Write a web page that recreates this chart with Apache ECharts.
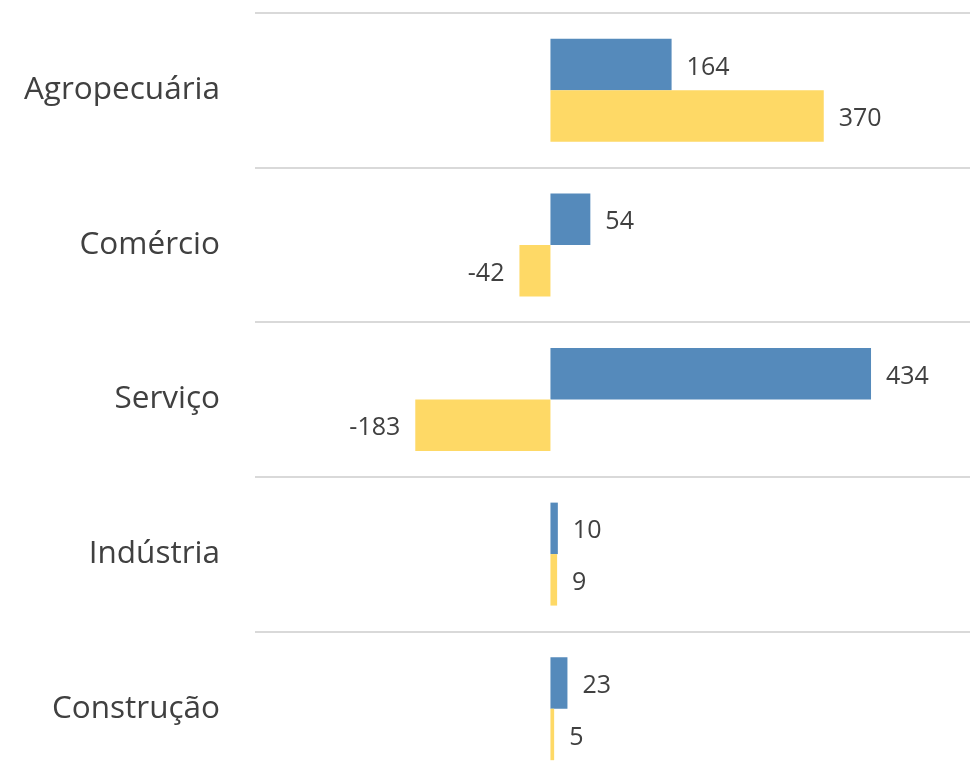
<!DOCTYPE html>
<html>
<head>
<meta charset="utf-8">
<script src="https://cdn.jsdelivr.net/npm/echarts@6/dist/echarts.min.js"></script>
<style>
  html, body { margin: 0; padding: 0; background: #ffffff; }
  #chart { width: 970px; height: 779px; }
</style>
</head>
<body>
<div id="chart"></div>
<script>
// Sector categories, top to bottom
const categories = ['Agropecuária', 'Comércio', 'Serviço', 'Indústria', 'Construção'];
// Two series per sector
const seriesA = [164, 54, 434, 10, 23];
const seriesB = [370, -42, -183, 9, 5];

const labelFor = function (v) {
  return {
    show: true,
    position: v >= 0 ? 'right' : 'left',
    distance: 15,
    offset: [0, 3],
    color: '#404040',
    fontFamily: 'Open Sans',
    fontSize: 25
  };
};

const toData = function (arr) {
  return arr.map(function (v) { return { value: v, label: labelFor(v) }; });
};

const chart = echarts.init(document.getElementById('chart'));
chart.setOption({
  animation: false,
  grid: { left: 255, right: 0, top: 13, height: 773, outerBoundsMode: 'none' },
  xAxis: {
    type: 'value',
    min: -400,
    max: 568,
    show: false
  },
  yAxis: {
    type: 'category',
    data: categories,
    inverse: true,
    axisLine: { show: false },
    axisTick: { show: false },
    axisLabel: {
      margin: 35,
      color: '#404040',
      fontFamily: 'Open Sans',
      fontSize: 31.5
    },
    splitLine: { show: true, lineStyle: { color: '#d9d9d9', width: 2 } }
  },
  series: [
    {
      type: 'bar',
      data: toData(seriesA),
      itemStyle: { color: '#558abb' },
      barGap: '0%',
      barCategoryGap: '33.4%'
    },
    {
      type: 'bar',
      data: toData(seriesB),
      itemStyle: { color: '#fed966' },
      barGap: '0%',
      barCategoryGap: '33.4%'
    }
  ]
});
</script>
</body>
</html>
